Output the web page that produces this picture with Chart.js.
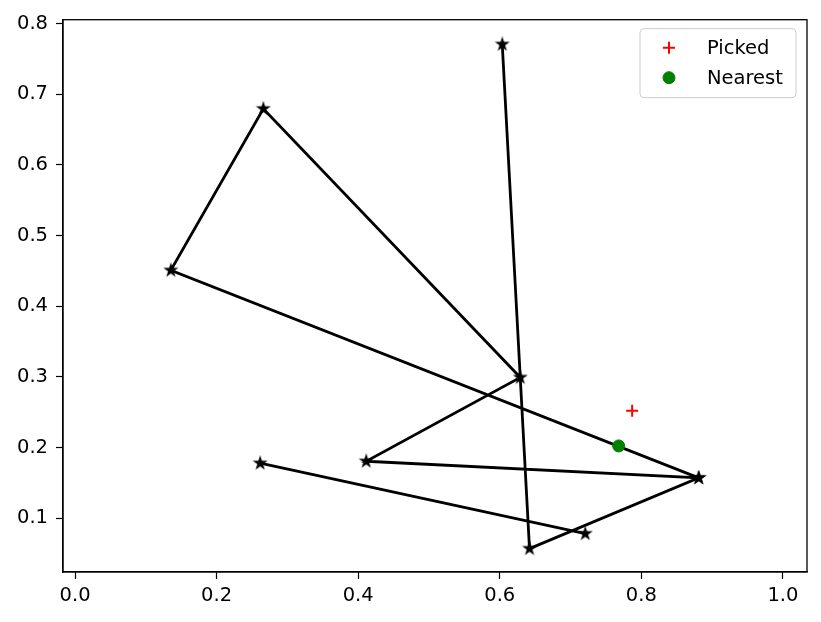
<!DOCTYPE html>
<html>
<head>
<meta charset="utf-8">
<script src="https://cdn.jsdelivr.net/npm/chart.js@4.4.1/dist/chart.umd.min.js"></script>
<style>
  body { margin: 0; background: #ffffff; }
  canvas { display: block; }
</style>
</head>
<body>
<canvas id="myChart" width="821" height="622"></canvas>
<script>
// path of the starred line (null = break between the two pieces)
const lineX = [0.6035, 0.642, 0.881, 0.4113, 0.629, 0.266, 0.1353, 0.881, null, 0.2615, 0.7208];
const lineY = [0.7708, 0.0568, 0.157, 0.1805, 0.2991, 0.6796, 0.4508, 0.157, null, 0.1777, 0.078];

const pickedX = [0.787];
const pickedY = [0.252];
const nearestX = [0.768];
const nearestY = [0.2022];

const xTicks = [0.0, 0.2, 0.4, 0.6, 0.8, 1.0];
const yTicks = [0.1, 0.2, 0.3, 0.4, 0.5, 0.6, 0.7, 0.8];

function toPoints(xs, ys) {
    return xs.map((x, i) => ({ x: x === null ? 0.5 : x, y: ys[i] }));
}

// filled 5-point star like matplotlib's '*' marker
function makeStar() {
    const c = document.createElement("canvas");
    c.width = 16;
    c.height = 16;
    const g = c.getContext("2d");
    const outer = 5.3, inner = outer * 0.381966;
    g.beginPath();
    for (let i = 0; i < 10; i++) {
        const r = i % 2 === 0 ? outer : inner;
        const a = -Math.PI / 2 + i * Math.PI / 5;
        const px = 8 + r * Math.cos(a), py = 8 + r * Math.sin(a);
        if (i === 0) g.moveTo(px, py); else g.lineTo(px, py);
    }
    g.closePath();
    g.fillStyle = "#000000";
    g.fill();
    g.lineWidth = 1.6;
    g.lineJoin = "miter";
    g.strokeStyle = "#000000";
    g.stroke();
    return c;
}

const fontFamily = "'DejaVu Sans', sans-serif";
const fontSize = 19.5;

const frame = {
    id: "frame",
    afterDatasetsDraw(chart) {
        const { ctx, chartArea: a } = chart;
        ctx.save();
        ctx.strokeStyle = "#000000";
        ctx.lineWidth = 1.3;
        ctx.strokeRect(a.left, a.top, a.right - a.left, a.bottom - a.top);
        ctx.restore();
    }
};

// matplotlib-style legend inside the upper right corner
const innerLegend = {
    id: "innerLegend",
    afterDraw(chart) {
        const ctx = chart.ctx;
        const a = chart.chartArea;
        const items = chart.data.datasets.filter(d => d.label);
        const w = 156, h = 69;
        const x0 = a.right - 11 - w, y0 = a.top + 9;
        ctx.save();
        ctx.beginPath();
        ctx.roundRect(x0, y0, w, h, 4);
        ctx.fillStyle = "rgba(255,255,255,0.8)";
        ctx.fill();
        ctx.strokeStyle = "#cccccc";
        ctx.lineWidth = 1;
        ctx.stroke();
        items.forEach((d, i) => {
            const cy = y0 + 19 + i * 30;
            ctx.fillStyle = d.pointBackgroundColor;
            ctx.strokeStyle = d.pointBorderColor;
            ctx.lineWidth = d.pointBorderWidth;
            Chart.helpers.drawPoint(ctx, {
                pointStyle: d.pointStyle,
                radius: d.pointRadius,
                borderWidth: d.pointBorderWidth,
                rotation: 0
            }, x0 + 29, cy);
            ctx.fillStyle = "#000000";
            ctx.font = fontSize + "px " + fontFamily;
            ctx.textBaseline = "middle";
            ctx.textAlign = "left";
            ctx.fillText(d.label, x0 + 67, cy + 1);
        });
        ctx.restore();
    }
};

const axisStyle = {
    grid: { display: true, drawOnChartArea: false, drawTicks: true, tickLength: 7, tickColor: "#000000", tickWidth: 1.2 },
    border: { display: true, color: "#000000", width: 1.3 },
    ticks: {
        color: "#000000",
        font: { family: fontFamily, size: fontSize },
        autoSkip: false,
        maxRotation: 0,
        callback: v => Number(v).toFixed(1)
    }
};

new Chart(document.getElementById("myChart").getContext("2d"), {
    type: "scatter",
    data: {
        datasets: [
            {
                data: toPoints(lineX, lineY),
                showLine: true,
                spanGaps: false,
                borderColor: "#000000",
                borderWidth: 2.8,
                pointStyle: makeStar(),
                pointRadius: 6,
                order: 3
            },
            {
                label: "Picked",
                data: toPoints(pickedX, pickedY),
                pointStyle: "cross",
                pointRadius: 6,
                pointBorderWidth: 2,
                pointBorderColor: "#ff0000",
                pointBackgroundColor: "#ff0000",
                order: 1
            },
            {
                label: "Nearest",
                data: toPoints(nearestX, nearestY),
                pointStyle: "circle",
                pointRadius: 6,
                pointBorderWidth: 1,
                pointBorderColor: "#008000",
                pointBackgroundColor: "#008000",
                order: 2
            }
        ]
    },
    options: {
        responsive: false,
        animation: false,
        layout: { padding: { left: 0, right: 14, top: 18, bottom: 0 } },
        plugins: {
            legend: { display: false },
            tooltip: { enabled: false }
        },
        scales: {
            x: {
                ...axisStyle,
                min: -0.017,
                max: 1.034,
                ticks: { ...axisStyle.ticks, padding: 5 },
                afterBuildTicks: s => { s.ticks = xTicks.map(v => ({ value: v })); },
                afterFit: s => { s.height = 50; }
            },
            y: {
                ...axisStyle,
                min: 0.0237,
                max: 0.8057,
                ticks: { ...axisStyle.ticks, padding: 8 },
                afterBuildTicks: s => { s.ticks = yTicks.map(v => ({ value: v })); },
                afterFit: s => { s.width = 63; }
            }
        }
    },
    plugins: [frame, innerLegend]
});
</script>
</body>
</html>
